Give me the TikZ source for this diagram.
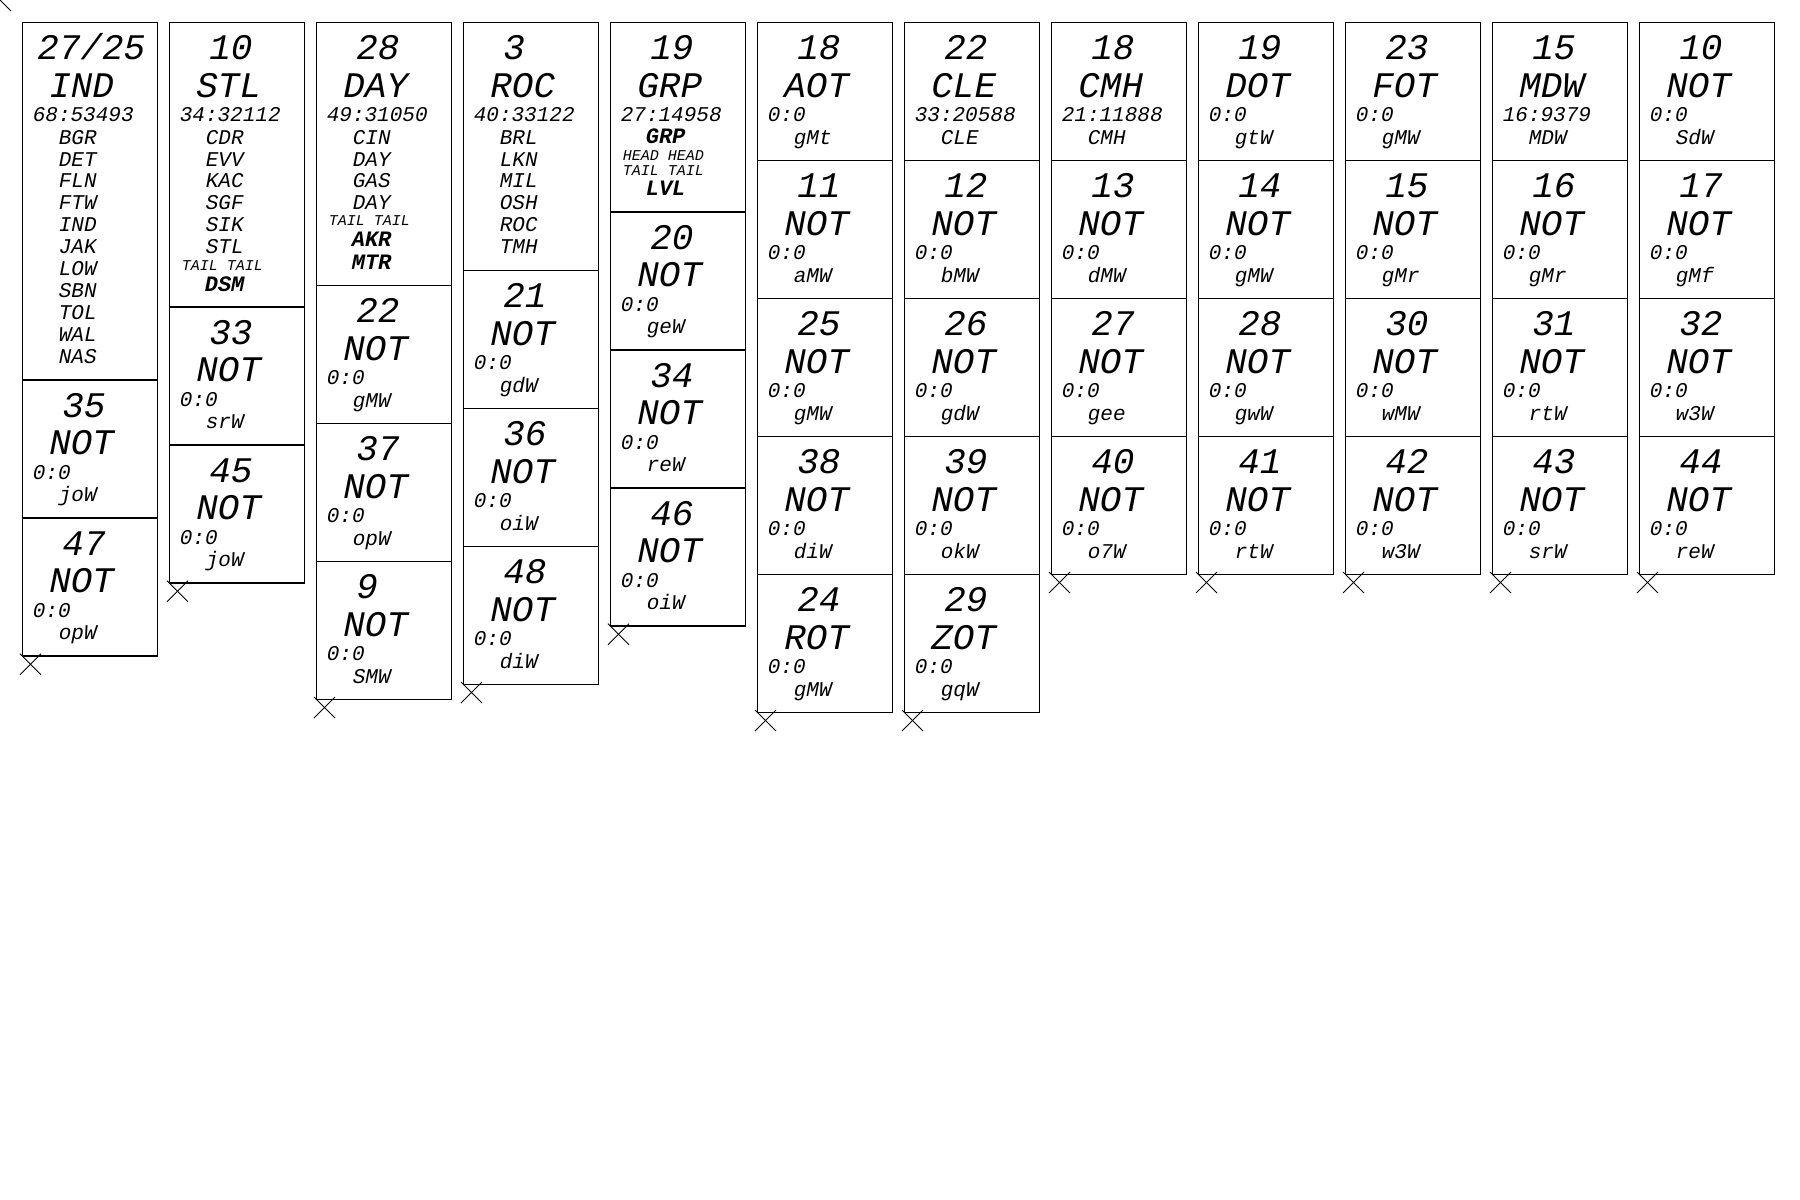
\documentclass[tikz,border=0pt]{standalone}
\usepackage{fontspec}
\newfontfamily\monofam{Liberation Mono}
\tikzset{
  cellbox/.style={draw, line width=1.2pt, minimum width=135pt, inner sep=0pt, outer sep=0pt, anchor=north west},
  txtbase/.style={anchor=base west, inner sep=0pt, outer sep=0pt},
  bigtxt/.style={txtbase, font=\monofam\itshape\fontsize{36}{36}\selectfont},
  midtxt/.style={txtbase, font=\monofam\itshape\fontsize{21}{21}\selectfont},
  smalltxt/.style={txtbase, font=\monofam\itshape\fontsize{15}{15}\selectfont},
  boldtxt/.style={txtbase, font=\monofam\bfseries\itshape\fontsize{22}{22}\selectfont},
  xmark/.style={line width=0.8pt}
}
\newcommand\cellat[4]{\node[cellbox, minimum height=#4pt] (#1) at ({22.3+147*#2},#3) {};}
\newcommand\tline[6]{\node[#3] (#1-#2) at ([shift={(#4,#5)}]#1.north west) {#6};}
\newcommand\stdcell[8]{%
  \cellat{#1}{#2}{#3}{#4}
  \tline{#1}{n}{bigtxt}{40}{37.5}{#5}
  \tline{#1}{l}{bigtxt}{27}{74.7}{#6}
  \tline{#1}{r}{midtxt}{10.5}{99.3}{#7}
  \tline{#1}{s}{midtxt}{36.5}{121.8}{#8}}
\newcommand\xmk[1]{%
  \draw[xmark] ([shift={(-2.3,-2.3)}]#1.south west) -- ([shift={(18.7,18.7)}]#1.south west);
  \draw[xmark] ([shift={(18.7,-2.3)}]#1.south west) -- ([shift={(-2.3,18.7)}]#1.south west);}
\begin{document}
\begin{tikzpicture}[x=1pt, y=-1pt]
\useasboundingbox (0,0) rectangle (1800,1200);
\coordinate (origin) at (0,0);
\coordinate (origintip) at (11,11);
\draw[xmark] (origin) -- (origintip);

% column 1
\cellat{a1}{0}{22.3}{357.7}
\tline{a1}{n}{bigtxt}{15}{37.5}{27/25}
\tline{a1}{l}{bigtxt}{27}{74.7}{IND}
\tline{a1}{r}{midtxt}{10.5}{99.3}{68:53493}
\tline{a1}{s0}{midtxt}{36.5}{121.8}{BGR}
\tline{a1}{s1}{midtxt}{36.5}{143.7}{DET}
\tline{a1}{s2}{midtxt}{36.5}{165.6}{FLN}
\tline{a1}{s3}{midtxt}{36.5}{187.5}{FTW}
\tline{a1}{s4}{midtxt}{36.5}{209.4}{IND}
\tline{a1}{s5}{midtxt}{36.5}{231.3}{JAK}
\tline{a1}{s6}{midtxt}{36.5}{253.2}{LOW}
\tline{a1}{s7}{midtxt}{36.5}{275.1}{SBN}
\tline{a1}{s8}{midtxt}{36.5}{297.0}{TOL}
\tline{a1}{s9}{midtxt}{36.5}{318.9}{WAL}
\tline{a1}{s10}{midtxt}{36.5}{340.8}{NAS}
\stdcell{a2}{0}{380}{138}{35}{NOT}{0:0}{joW}
\stdcell{a3}{0}{518}{138}{47}{NOT}{0:0}{opW}
\xmk{a3}

% column 2
\cellat{b1}{1}{22.3}{284.7}
\tline{b1}{n}{bigtxt}{40}{37.5}{10}
\tline{b1}{l}{bigtxt}{27}{74.7}{STL}
\tline{b1}{r}{midtxt}{10.5}{99.3}{34:32112}
\tline{b1}{s0}{midtxt}{36.5}{121.8}{CDR}
\tline{b1}{s1}{midtxt}{36.5}{143.7}{EVV}
\tline{b1}{s2}{midtxt}{36.5}{165.6}{KAC}
\tline{b1}{s3}{midtxt}{36.5}{187.5}{SGF}
\tline{b1}{s4}{midtxt}{36.5}{209.4}{SIK}
\tline{b1}{s5}{midtxt}{36.5}{231.3}{STL}
\tline{b1}{t0}{smalltxt}{12.5}{247.7}{TAIL TAIL}
\tline{b1}{b0}{boldtxt}{35.5}{268.7}{DSM}
\stdcell{b2}{1}{307}{138}{33}{NOT}{0:0}{srW}
\stdcell{b3}{1}{445}{138}{45}{NOT}{0:0}{joW}
\xmk{b3}

% column 3
\cellat{c1}{2}{22.3}{263}
\tline{c1}{n}{bigtxt}{40}{37.5}{28}
\tline{c1}{l}{bigtxt}{27}{74.7}{DAY}
\tline{c1}{r}{midtxt}{10.5}{99.3}{49:31050}
\tline{c1}{s0}{midtxt}{36.5}{121.8}{CIN}
\tline{c1}{s1}{midtxt}{36.5}{143.7}{DAY}
\tline{c1}{s2}{midtxt}{36.5}{165.6}{GAS}
\tline{c1}{s3}{midtxt}{36.5}{187.5}{DAY}
\tline{c1}{t0}{smalltxt}{12.5}{203.4}{TAIL TAIL}
\tline{c1}{b0}{boldtxt}{35.5}{224.4}{AKR}
\tline{c1}{b1}{boldtxt}{35.5}{246.7}{MTR}
\stdcell{c2}{2}{285.3}{138}{22}{NOT}{0:0}{gMW}
\stdcell{c3}{2}{423.3}{138}{37}{NOT}{0:0}{opW}
\stdcell{c4}{2}{561.3}{138}{9}{NOT}{0:0}{SMW}
\xmk{c4}

% column 4
\cellat{d1}{3}{22.3}{248}
\tline{d1}{n}{bigtxt}{40}{37.5}{3}
\tline{d1}{l}{bigtxt}{27}{74.7}{ROC}
\tline{d1}{r}{midtxt}{10.5}{99.3}{40:33122}
\tline{d1}{s0}{midtxt}{36.5}{121.8}{BRL}
\tline{d1}{s1}{midtxt}{36.5}{143.7}{LKN}
\tline{d1}{s2}{midtxt}{36.5}{165.6}{MIL}
\tline{d1}{s3}{midtxt}{36.5}{187.5}{OSH}
\tline{d1}{s4}{midtxt}{36.5}{209.4}{ROC}
\tline{d1}{s5}{midtxt}{36.5}{231.3}{TMH}
\stdcell{d2}{3}{270.3}{138}{21}{NOT}{0:0}{gdW}
\stdcell{d3}{3}{408.3}{138}{36}{NOT}{0:0}{oiW}
\stdcell{d4}{3}{546.3}{138}{48}{NOT}{0:0}{diW}
\xmk{d4}

% column 5
\cellat{e1}{4}{22.3}{189.7}
\tline{e1}{n}{bigtxt}{40}{37.5}{19}
\tline{e1}{l}{bigtxt}{27}{74.7}{GRP}
\tline{e1}{r}{midtxt}{10.5}{99.3}{27:14958}
\tline{e1}{b0}{boldtxt}{35.5}{121}{GRP}
\tline{e1}{t0}{smalltxt}{12.5}{137.7}{HEAD HEAD}
\tline{e1}{t1}{smalltxt}{12.5}{152.7}{TAIL TAIL}
\tline{e1}{b1}{boldtxt}{35.5}{173.4}{LVL}
\stdcell{e2}{4}{212}{138}{20}{NOT}{0:0}{geW}
\stdcell{e3}{4}{350}{138}{34}{NOT}{0:0}{reW}
\stdcell{e4}{4}{488}{138}{46}{NOT}{0:0}{oiW}
\xmk{e4}

% column 6
\stdcell{f1}{5}{22.3}{138}{18}{AOT}{0:0}{gMt}
\stdcell{f2}{5}{160.3}{138}{11}{NOT}{0:0}{aMW}
\stdcell{f3}{5}{298.3}{138}{25}{NOT}{0:0}{gMW}
\stdcell{f4}{5}{436.3}{138}{38}{NOT}{0:0}{diW}
\stdcell{f5}{5}{574.3}{138}{24}{ROT}{0:0}{gMW}
\xmk{f5}

% column 7
\stdcell{g1}{6}{22.3}{138}{22}{CLE}{33:20588}{CLE}
\stdcell{g2}{6}{160.3}{138}{12}{NOT}{0:0}{bMW}
\stdcell{g3}{6}{298.3}{138}{26}{NOT}{0:0}{gdW}
\stdcell{g4}{6}{436.3}{138}{39}{NOT}{0:0}{okW}
\stdcell{g5}{6}{574.3}{138}{29}{ZOT}{0:0}{gqW}
\xmk{g5}

% column 8
\stdcell{h1}{7}{22.3}{138}{18}{CMH}{21:11888}{CMH}
\stdcell{h2}{7}{160.3}{138}{13}{NOT}{0:0}{dMW}
\stdcell{h3}{7}{298.3}{138}{27}{NOT}{0:0}{gee}
\stdcell{h4}{7}{436.3}{138}{40}{NOT}{0:0}{o7W}
\xmk{h4}

% column 9
\stdcell{i1}{8}{22.3}{138}{19}{DOT}{0:0}{gtW}
\stdcell{i2}{8}{160.3}{138}{14}{NOT}{0:0}{gMW}
\stdcell{i3}{8}{298.3}{138}{28}{NOT}{0:0}{gwW}
\stdcell{i4}{8}{436.3}{138}{41}{NOT}{0:0}{rtW}
\xmk{i4}

% column 10
\stdcell{j1}{9}{22.3}{138}{23}{FOT}{0:0}{gMW}
\stdcell{j2}{9}{160.3}{138}{15}{NOT}{0:0}{gMr}
\stdcell{j3}{9}{298.3}{138}{30}{NOT}{0:0}{wMW}
\stdcell{j4}{9}{436.3}{138}{42}{NOT}{0:0}{w3W}
\xmk{j4}

% column 11
\stdcell{k1}{10}{22.3}{138}{15}{MDW}{16:9379}{MDW}
\stdcell{k2}{10}{160.3}{138}{16}{NOT}{0:0}{gMr}
\stdcell{k3}{10}{298.3}{138}{31}{NOT}{0:0}{rtW}
\stdcell{k4}{10}{436.3}{138}{43}{NOT}{0:0}{srW}
\xmk{k4}

% column 12
\stdcell{l1}{11}{22.3}{138}{10}{NOT}{0:0}{SdW}
\stdcell{l2}{11}{160.3}{138}{17}{NOT}{0:0}{gMf}
\stdcell{l3}{11}{298.3}{138}{32}{NOT}{0:0}{w3W}
\stdcell{l4}{11}{436.3}{138}{44}{NOT}{0:0}{reW}
\xmk{l4}
\end{tikzpicture}
\end{document}
